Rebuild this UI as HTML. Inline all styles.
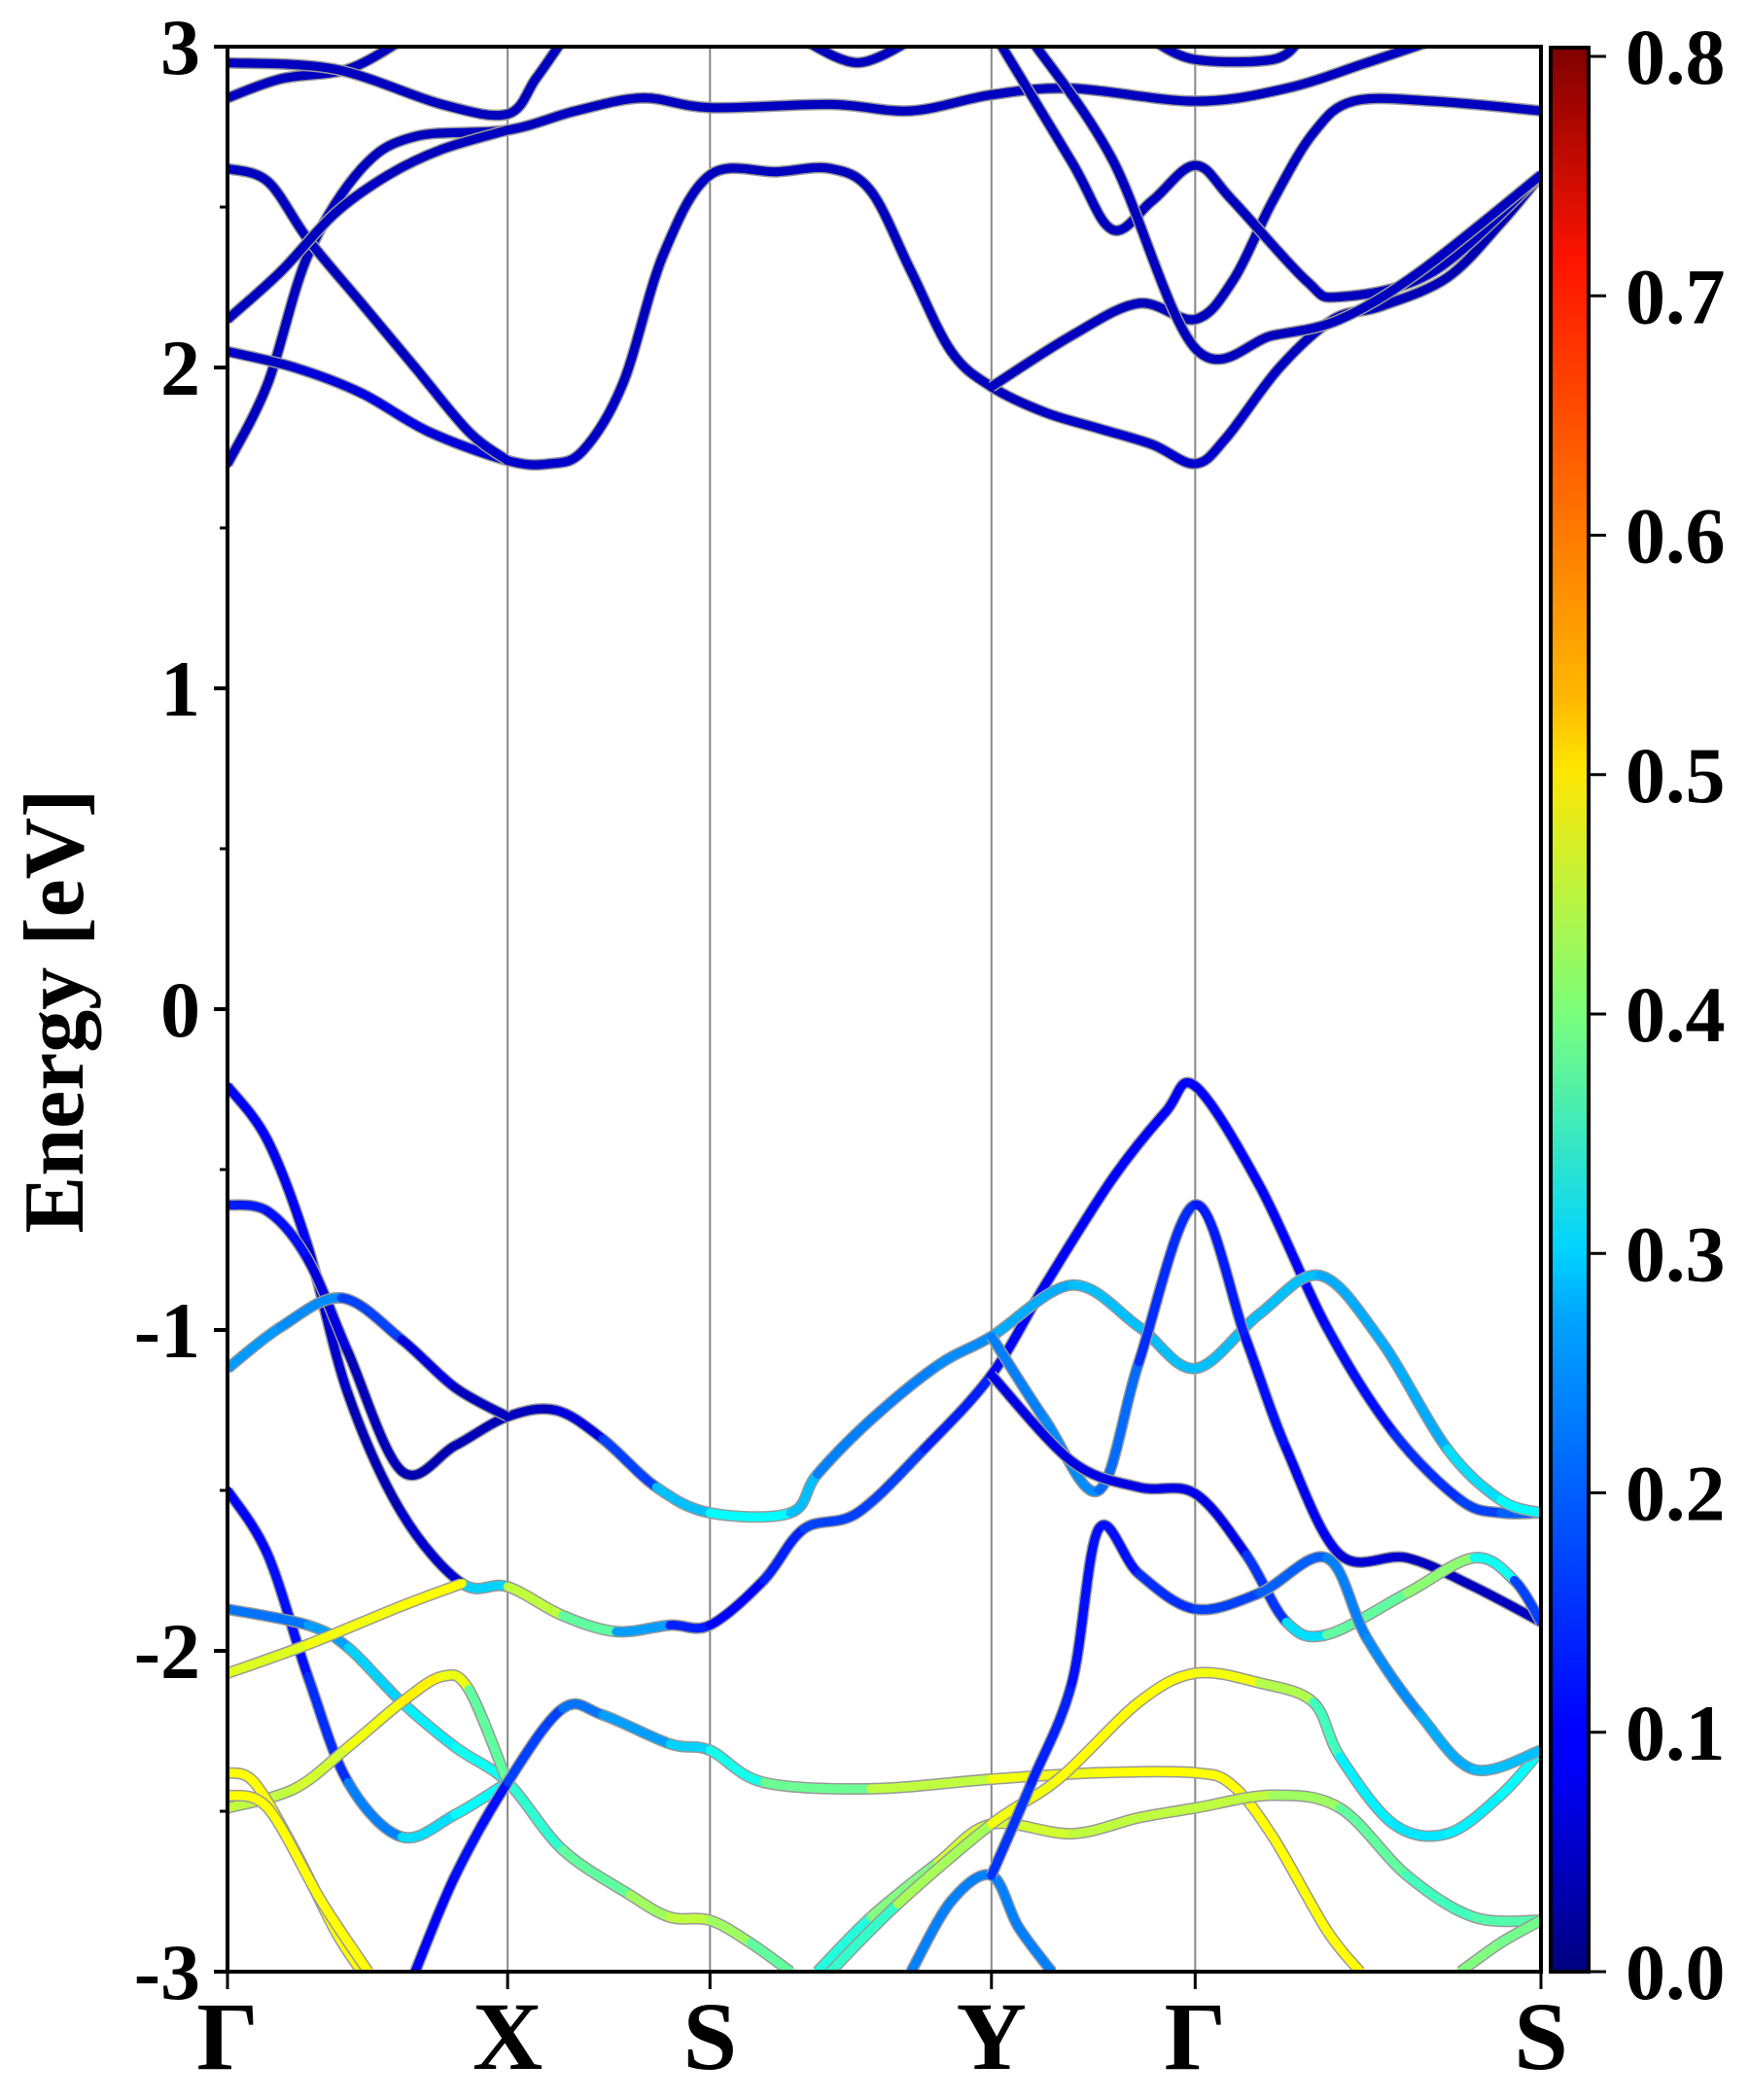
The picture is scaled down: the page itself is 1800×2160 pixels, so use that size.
<!DOCTYPE html>
<html><head><meta charset="utf-8"><style>
html,body{margin:0;padding:0;background:#fff;}
svg{display:block;}
text{font-family:"Liberation Serif","Times New Roman",serif;font-weight:bold;fill:#000;}
</style></head><body>
<svg id="chart" width="1800" height="2160" viewBox="0 0 1800 2160">
<defs>
<linearGradient id="jet" x1="0" y1="1" x2="0" y2="0">
<stop offset="0" stop-color="#00007f"/><stop offset="0.11" stop-color="#0000ff"/><stop offset="0.125" stop-color="#0000ff"/>
<stop offset="0.34" stop-color="#00a4ff"/><stop offset="0.375" stop-color="#00d4ff"/><stop offset="0.5" stop-color="#7dff7a"/>
<stop offset="0.625" stop-color="#ffe600"/><stop offset="0.66" stop-color="#ffb900"/><stop offset="0.89" stop-color="#ff1300"/><stop offset="1" stop-color="#7f0000"/>
</linearGradient>
<clipPath id="plotclip"><rect x="234" y="48" width="1351" height="1980"/></clipPath>
</defs>
<g id="grid"></g>
<g id="bands" clip-path="url(#plotclip)"></g>
<g id="axes"></g>
<g id="cbar"></g>
</svg>
<script>
// path-length coordinate (arbitrary units) of high-symmetry points
const kLabels = ["Γ","X","S","Y","Γ","S"];
const kPoints = [0, 209, 360, 570, 722, 980];
const yTicks = [3, 2, 1, 0, -1, -2, -3];
const yTickLabels = ["3","2","1","0","-1","-2","-3"];
const cbTicks = [0.0,0.1,0.2,0.3,0.4,0.5,0.6,0.7,0.8];
const cbTickLabels = ["0.0","0.1","0.2","0.3","0.4","0.5","0.6","0.7","0.8"];

// bands: arrays of [k, E(eV), weight]
const bandC1 = [[0,1.70,.05],[30,1.95,.05],[60,2.35,.05],[100,2.62,.05],[140,2.72,.05],[209,2.74,.05],[260,2.80,.05],[310,2.84,.05],[360,2.81,.05],[450,2.82,.05],[510,2.80,.05],[570,2.85,.05],[630,2.87,.05],[722,2.83,.05],[790,2.87,.05],[850,2.95,.05],[900,3.02,.05]];
const bandC2 = [[0,2.05,.05],[50,2.00,.06],[100,1.92,.08],[150,1.80,.08],[209,1.71,.06],[240,1.70,.06],[265,1.74,.06],[295,1.95,.05],[325,2.35,.05],[360,2.60,.05],[410,2.61,.05],[450,2.62,.05],[480,2.55,.05],[510,2.30,.05],[540,2.05,.05],[570,1.94,.05],[610,1.86,.05],[650,1.81,.06],[690,1.76,.06],[722,1.70,.06],[745,1.78,.06],[785,2.00,.05],[825,2.15,.05],[860,2.19,.05],[910,2.28,.04],[950,2.45,.04],[980,2.60,.04]];
const bandC3 = [[0,2.62,.05],[30,2.58,.05],[60,2.40,.05],[100,2.20,.05],[140,2.00,.05],[180,1.80,.06],[209,1.71,.06]];
const bandC4 = [[0,2.15,.05],[40,2.30,.05],[80,2.48,.05],[120,2.60,.05],[160,2.68,.05],[209,2.74,.05]];
const bandC5 = [[0,2.84,.05],[40,2.90,.05],[90,2.93,.05],[130,3.02,.05]];
const bandC6 = [[0,2.95,.05],[80,2.93,.05],[160,2.82,.05],[209,2.79,.05],[230,2.90,.05],[250,3.02,.05]];
const bandC7 = [[570,1.94,.05],[630,2.10,.05],[680,2.20,.05],[722,2.15,.05],[750,2.27,.05],[780,2.52,.05],[810,2.73,.05],[840,2.83,.05],[900,2.83,.05],[980,2.80,.05]];
const bandC8 = [[575,3.02,.05],[630,2.64,.05],[660,2.43,.05],[690,2.52,.05],[722,2.63,.05],[750,2.52,.05],[805,2.27,.05],[830,2.22,.05],[900,2.30,.05],[980,2.60,.05]];
const bandC9 = [[600,3.02,.05],[660,2.65,.05],[722,2.06,.05],[780,2.10,.05],[830,2.15,.05],[890,2.30,.05],[980,2.60,.05]];
const bandC10 = [[690,3.02,.05],[722,2.96,.05],[780,2.96,.05],[800,3.02,.05]];
const bandC11 = [[430,3.02,.05],[470,2.95,.05],[510,3.02,.05]];
const bandV1 = [[0,-0.24,.1],[30,-0.41,.1],[60,-0.74,.08],[90,-1.20,.04],[130,-1.57,.04],[175,-1.79,.08],[209,-1.80,.45],[250,-1.89,.45],[290,-1.94,.3],[330,-1.92,.15],[360,-1.92,.1],[400,-1.78,.1],[430,-1.62,.15],[470,-1.57,.15],[520,-1.37,.15],[570,-1.14,.1],[610,-0.86,.1],[660,-0.53,.1],[700,-0.32,.1],[722,-0.24,.1],[770,-0.55,.1],[820,-0.99,.1],[870,-1.32,.12],[920,-1.53,.15],[950,-1.57,.15],[980,-1.57,.2]];
const bandV2 = [[0,-0.61,.12],[30,-0.63,.12],[60,-0.78,.1],[90,-1.07,.05],[130,-1.44,.04],[170,-1.36,.04],[209,-1.27,.05],[245,-1.25,.05],[280,-1.34,.1],[320,-1.49,.2],[360,-1.57,.3],[420,-1.57,.3],[440,-1.45,.2],[480,-1.28,.2],[530,-1.11,.2],[570,-1.02,.22],[630,-0.86,.25],[680,-0.99,.25],[722,-1.12,.25],[770,-0.95,.25],[815,-0.83,.25],[860,-1.03,.22],[910,-1.37,.25],[950,-1.53,.3],[980,-1.57,.3]];
const bandV3 = [[0,-1.12,.22],[40,-0.99,.22],[85,-0.90,.2],[130,-1.03,.1],[170,-1.18,.05],[209,-1.27,.05]];
const bandV4 = [[570,-1.02,.2],[610,-1.28,.2],[650,-1.50,.22],[680,-1.10,.15],[722,-0.61,.12],[760,-1.03,.12],[790,-1.37,.1],[830,-1.70,.08],[880,-1.71,.05],[930,-1.80,.05],[980,-1.91,.05]];
const bandV5 = [[570,-1.14,.08],[630,-1.41,.08],[680,-1.49,.08],[722,-1.51,.08],[760,-1.70,.08],[790,-1.91,.2],[820,-1.95,.35],[880,-1.82,.4],[930,-1.71,.42],[960,-1.78,.2],[980,-1.91,.1]];
const bandV6 = [[0,-1.50,.1],[30,-1.70,.1],[60,-2.08,.12],[90,-2.41,.15],[130,-2.58,.25],[170,-2.51,.3],[209,-2.41,.3]];
const bandV7 = [[0,-1.87,.18],[60,-1.92,.2],[90,-1.99,.25],[130,-2.16,.28],[170,-2.30,.3],[209,-2.41,.32],[250,-2.62,.35],[300,-2.76,.4],[330,-2.83,.45],[360,-2.84,.45],[390,-2.91,.4],[420,-3.00,.35]];
const bandV8 = [[0,-2.07,.47],[60,-1.98,.48],[130,-1.86,.5],[175,-1.79,.5]];
const bandV9 = [[0,-2.49,.45],[50,-2.43,.45],[90,-2.30,.48],[130,-2.16,.5],[160,-2.08,.52],[180,-2.12,.45],[209,-2.41,.3]];
const bandV10 = [[140,-3.00,.1],[170,-2.70,.1],[209,-2.41,.12],[250,-2.18,.18],[280,-2.20,.2],[330,-2.29,.25],[360,-2.31,.28],[400,-2.41,.35],[480,-2.43,.42],[570,-2.40,.48],[650,-2.38,.5],[722,-2.38,.5],[750,-2.42,.5],[780,-2.58,.5],[820,-2.87,.5],[845,-3.00,.5]];
const bandV11 = [[0,-2.38,.5],[20,-2.41,.5],[50,-2.62,.5],[80,-2.87,.5],[100,-3.00,.5]];
const bandV12 = [[0,-2.45,.5],[30,-2.49,.5],[70,-2.78,.5],[105,-3.00,.5]];
const bandV13 = [[440,-3.00,.3],[480,-2.83,.35],[530,-2.66,.45],[570,-2.54,.48],[630,-2.57,.45],[680,-2.52,.45],[722,-2.49,.45],[780,-2.45,.45],[830,-2.49,.4],[880,-2.70,.35],[930,-2.83,.35],[980,-2.84,.38]];
const bandV14 = [[450,-3.00,.3],[500,-2.79,.38],[570,-2.54,.48],[620,-2.40,.5],[680,-2.16,.5],[722,-2.07,.5],[770,-2.10,.48],[810,-2.16,.4],[830,-2.33,.3],[870,-2.54,.28],[910,-2.57,.28],[950,-2.45,.3],[980,-2.31,.3]];
const bandV15 = [[510,-3.00,.2],[540,-2.78,.2],[570,-2.70,.2],[590,-2.86,.2],[615,-3.00,.2]];
const bandV16 = [[570,-2.70,.15],[600,-2.41,.13],[630,-2.10,.12],[650,-1.62,.1],[680,-1.76,.12],[722,-1.87,.15],[770,-1.82,.15],[820,-1.71,.2],[850,-1.96,.2],[890,-2.20,.22],[930,-2.37,.25],[980,-2.31,.25]];
const bandV17 = [[920,-3.00,.4],[950,-2.91,.4],[980,-2.84,.38]];
const allBands = [bandC1,bandC2,bandC3,bandC4,bandC5,bandC6,bandC7,bandC8,bandC9,bandC10,bandC11,bandV1,bandV2,bandV3,bandV4,bandV5,bandV6,bandV7,bandV8,bandV9,bandV10,bandV11,bandV12,bandV13,bandV14,bandV15,bandV16,bandV17];

const NS="http://www.w3.org/2000/svg";
const X0=234,X1=1585,Y0=48,Y1=2028;
const xS=k=>X0+(k-kPoints[0])/(kPoints[kPoints.length-1]-kPoints[0])*(X1-X0);
const yS=e=>Y0+(3-e)/6*(Y1-Y0);
const CB0=2028,CB1=58;
const cbS=v=>CB0-(v/0.8)*(CB0-CB1);
function jet(v){
  let t=Math.max(0,Math.min(1,v/0.8));
  const f=(x)=>Math.max(0,Math.min(1,1.5-Math.abs(4*t-x)));
  return `rgb(${Math.round(255*f(3))},${Math.round(255*f(2))},${Math.round(255*f(1))})`;
}
function mk(tag,attrs,parent){const e=document.createElementNS(NS,tag);for(const a in attrs)e.setAttribute(a,attrs[a]);parent.appendChild(e);return e;}
const grid=document.getElementById('grid'),bands=document.getElementById('bands'),axes=document.getElementById('axes'),cbar=document.getElementById('cbar');

kPoints.slice(1,-1).forEach((k,i)=>{
  const l=mk('line',{x1:xS(k),x2:xS(k),y1:Y0,y2:Y1,stroke:'#888','stroke-width':2},grid);
  
  
});

function segPath(p,i){
  const P=j=>p[Math.max(0,Math.min(p.length-1,j))];
  const a=P(i-1),b=P(i),c=P(i+1),d=P(i+2);
  const bx=xS(b[0]),by=yS(b[1]),cx=xS(c[0]),cy=yS(c[1]);
  const c1x=bx+(cx-xS(a[0]))/6,c1y=by+(cy-yS(a[1]))/6;
  const c2x=cx-(xS(d[0])-bx)/6,c2y=cy-(yS(d[1])-by)/6;
  return `M${bx},${by}C${c1x},${c1y} ${c2x},${c2y} ${cx},${cy}`;
}
allBands.forEach((b,bi)=>{
  const g=mk('g',{},bands);
  
  
  let full='';
  for(let i=0;i<b.length-1;i++)full+=segPath(b,i);
  mk('path',{d:full,fill:'none',stroke:'#999','stroke-width':12,'stroke-linecap':'butt'},g);
  for(let i=0;i<b.length-1;i++){
    mk('path',{d:segPath(b,i),fill:'none',stroke:jet((b[i][2]+b[i+1][2])/2),'stroke-width':9,'stroke-linecap':'round'},g);
  }
});

const frame=mk('rect',{x:X0,y:Y0,width:X1-X0,height:Y1-Y0,fill:'none',stroke:'#000','stroke-width':4},axes);


yTicks.forEach((v,i)=>{
  mk('line',{x1:X0-14,x2:X0,y1:yS(v),y2:yS(v),stroke:'#000','stroke-width':4},axes);
  const t=mk('text',{x:X0-28,y:yS(v)+28,'text-anchor':'end','font-size':82},axes);
  t.textContent=yTickLabels[i];
  
  
});
[2.5,1.5,0.5,-0.5,-1.5,-2.5].forEach(v=>mk('line',{x1:X0-8,x2:X0,y1:yS(v),y2:yS(v),stroke:'#000','stroke-width':3},axes));
kPoints.forEach((k,i)=>{
  mk('line',{x1:xS(k),x2:xS(k),y1:Y1,y2:Y1+18,stroke:'#000','stroke-width':3},axes);
  const t=mk('text',{x:xS(k),y:Y1+100,'text-anchor':'middle','font-size':100},axes);
  t.textContent=kLabels[i];
  
  
});
const yt=mk('text',{x:0,y:0,'text-anchor':'middle','font-size':88,transform:'translate(85,1040) rotate(-90)'},axes);
yt.textContent='Energy [eV]';



const cb=mk('rect',{x:1595,y:49,width:39,height:1979,fill:'url(#jet)',stroke:'#000','stroke-width':4},cbar);


cbTicks.forEach((v,i)=>{
  mk('line',{x1:1634,x2:1652,y1:cbS(v),y2:cbS(v),stroke:'#000','stroke-width':3},cbar);
  const t=mk('text',{x:1672,y:cbS(v)+28,'font-size':82},cbar);
  t.textContent=cbTickLabels[i];
  
  
});
</script>
</body></html>
